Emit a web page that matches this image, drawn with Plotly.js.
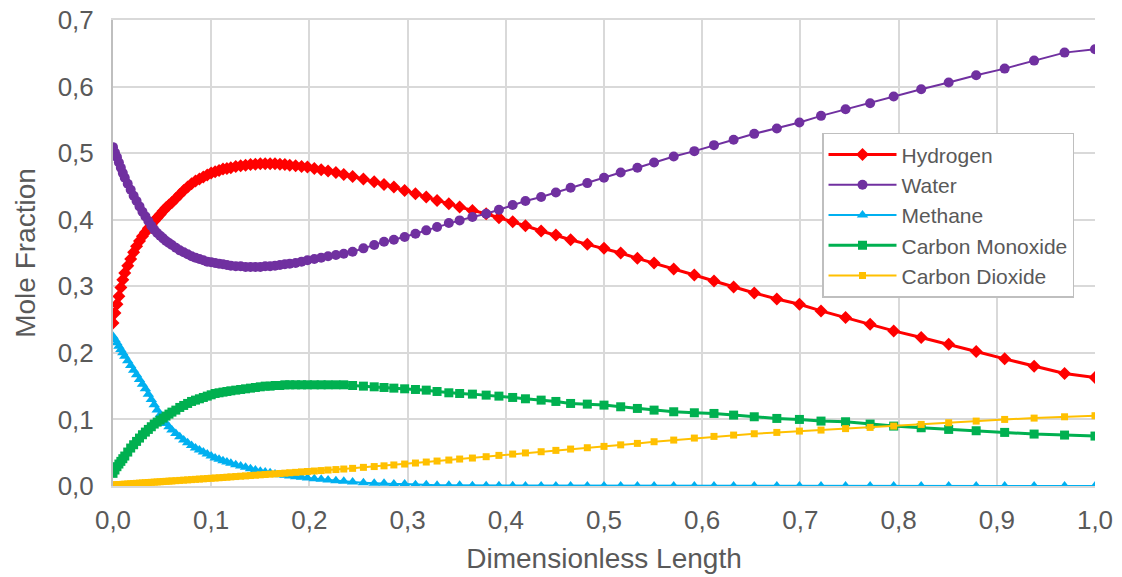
<!DOCTYPE html>
<html>
<head>
<meta charset="utf-8">
<script src="https://cdn.plot.ly/plotly-3.0.1.min.js"></script>
<style>
html,body{margin:0;padding:0;background:#fff;}
#chart{width:1122px;height:577px;}
</style>
</head>
<body>
<div id="chart"></div>
<script>
// Dimensionless length (x)
const lengthX = [
  0, 0.002, 0.004, 0.006, 0.008, 0.010, 0.012, 0.015, 0.018, 0.021,
  0.024, 0.027, 0.030, 0.033, 0.036, 0.039, 0.042, 0.045, 0.048, 0.051,
  0.054, 0.057, 0.060, 0.064, 0.068, 0.072, 0.076, 0.080, 0.084, 0.088,
  0.092, 0.096, 0.100, 0.104, 0.108, 0.112, 0.116, 0.120, 0.125, 0.130,
  0.135, 0.140, 0.145, 0.150, 0.155, 0.160, 0.165, 0.170, 0.175, 0.180,
  0.186, 0.192, 0.198, 0.205, 0.212, 0.219, 0.227, 0.235, 0.244, 0.255,
  0.266, 0.276, 0.286, 0.297, 0.308, 0.319, 0.330, 0.342, 0.353, 0.366,
  0.380, 0.393, 0.407, 0.420, 0.436, 0.451, 0.466, 0.483, 0.500, 0.517,
  0.534, 0.551, 0.571, 0.592, 0.612, 0.632, 0.653, 0.676, 0.699, 0.721,
  0.746, 0.771, 0.795, 0.823, 0.851, 0.879, 0.908, 0.938, 0.969, 1.000
];
const hydrogen = [
  0.245, 0.260, 0.273, 0.285, 0.298, 0.310, 0.320, 0.331, 0.341, 0.351,
  0.360, 0.368, 0.375, 0.381, 0.387, 0.392, 0.398, 0.403, 0.408, 0.413,
  0.418, 0.422, 0.426, 0.432, 0.438, 0.444, 0.449, 0.454, 0.458, 0.461,
  0.464, 0.467, 0.470, 0.472, 0.474, 0.476, 0.477, 0.478, 0.480, 0.481,
  0.482, 0.483, 0.4835, 0.484, 0.484, 0.484, 0.484, 0.4835, 0.483, 0.482,
  0.481, 0.480, 0.479, 0.477, 0.475, 0.473, 0.471, 0.468, 0.465, 0.461,
  0.457, 0.453, 0.449, 0.444, 0.439, 0.434, 0.429, 0.424, 0.419, 0.414,
  0.409, 0.403, 0.397, 0.391, 0.383, 0.377, 0.370, 0.363, 0.357, 0.350,
  0.342, 0.335, 0.326, 0.317, 0.308, 0.299, 0.290, 0.281, 0.273, 0.263,
  0.253, 0.243, 0.233, 0.223, 0.213, 0.202, 0.191, 0.180, 0.169, 0.163
];
const water = [
  0.509, 0.501, 0.494, 0.486, 0.478, 0.470, 0.463, 0.454, 0.445, 0.436,
  0.428, 0.420, 0.412, 0.405, 0.398, 0.391, 0.385, 0.380, 0.376, 0.372,
  0.368, 0.365, 0.362, 0.358, 0.354, 0.351, 0.348, 0.345, 0.343, 0.341,
  0.339, 0.337, 0.336, 0.335, 0.334, 0.333, 0.332, 0.331, 0.330, 0.330,
  0.329, 0.329, 0.329, 0.329, 0.330, 0.330, 0.331, 0.332, 0.333, 0.334,
  0.335, 0.337, 0.339, 0.341, 0.343, 0.345, 0.347, 0.349, 0.352, 0.357,
  0.362, 0.367, 0.370, 0.374, 0.379, 0.384, 0.389, 0.395, 0.399, 0.404,
  0.409, 0.415, 0.422, 0.428, 0.434, 0.441, 0.448, 0.455, 0.463, 0.471,
  0.478, 0.486, 0.495, 0.503, 0.512, 0.520, 0.529, 0.537, 0.546, 0.556,
  0.566, 0.575, 0.585, 0.596, 0.606, 0.617, 0.627, 0.639, 0.651, 0.656
];
const methane = [
  0.225, 0.220, 0.215, 0.210, 0.205, 0.200, 0.195, 0.188, 0.181, 0.174,
  0.167, 0.160, 0.153, 0.146, 0.138, 0.130, 0.122, 0.114, 0.107, 0.100,
  0.094, 0.089, 0.084, 0.079, 0.074, 0.069, 0.065, 0.061, 0.057, 0.054,
  0.051, 0.048, 0.045, 0.042, 0.040, 0.038, 0.036, 0.034, 0.032, 0.030,
  0.028, 0.026, 0.024, 0.022, 0.021, 0.020, 0.018, 0.017, 0.016, 0.015,
  0.014, 0.013, 0.012, 0.011, 0.010, 0.009, 0.008, 0.007, 0.006, 0.005,
  0.004, 0.004, 0.003, 0.003, 0.002, 0.002, 0.001, 0.001, 0.001, 0.0005,
  0.0005, 0.0003, 0.0002, 0.0001, 0, 0, 0, 0, 0, 0,
  0, 0, 0, 0, 0, 0, 0, 0, 0, 0,
  0, 0, 0, 0, 0, 0, 0, 0, 0, 0
];
const carbonMonoxide = [
  0.019, 0.024, 0.029, 0.033, 0.037, 0.041, 0.045, 0.051, 0.057, 0.062,
  0.067, 0.072, 0.077, 0.081, 0.085, 0.089, 0.093, 0.096, 0.099, 0.102,
  0.105, 0.108, 0.111, 0.114, 0.118, 0.121, 0.124, 0.127, 0.129, 0.131,
  0.133, 0.135, 0.137, 0.139, 0.140, 0.141, 0.142, 0.143, 0.144, 0.145,
  0.146, 0.147, 0.148, 0.149, 0.150, 0.150, 0.151, 0.151, 0.152, 0.152,
  0.152, 0.152, 0.152, 0.152, 0.152, 0.152, 0.152, 0.152, 0.151, 0.150,
  0.149, 0.148, 0.147, 0.146, 0.145, 0.144, 0.142, 0.140, 0.139, 0.138,
  0.1365, 0.135, 0.133, 0.131, 0.129, 0.127, 0.124, 0.123, 0.1215, 0.119,
  0.1165, 0.114, 0.1115, 0.110, 0.109, 0.1065, 0.104, 0.1015, 0.100, 0.0975,
  0.0965, 0.093, 0.090, 0.0875, 0.085, 0.083, 0.0805, 0.078, 0.0765, 0.075
];
const carbonDioxide = [
  0.0015, 0.0017, 0.0019, 0.0021, 0.0023, 0.0025, 0.0027, 0.0030, 0.0034, 0.0037,
  0.0040, 0.0043, 0.0046, 0.0049, 0.0052, 0.0055, 0.0058, 0.0061, 0.0064, 0.0067,
  0.0070, 0.0073, 0.0076, 0.0080, 0.0084, 0.0088, 0.0092, 0.0096, 0.0100, 0.0104,
  0.0108, 0.0112, 0.0116, 0.0120, 0.0124, 0.0128, 0.0132, 0.0137, 0.0142, 0.0147,
  0.0152, 0.0157, 0.0162, 0.0168, 0.0173, 0.0178, 0.0183, 0.0188, 0.0193, 0.0199,
  0.0205, 0.0212, 0.0218, 0.0225, 0.0232, 0.0240, 0.0247, 0.0255, 0.0265, 0.0280,
  0.0292, 0.0303, 0.0316, 0.0330, 0.0345, 0.0360, 0.0375, 0.0390, 0.0405, 0.0420,
  0.0440, 0.0460, 0.0480, 0.0497, 0.0515, 0.0535, 0.0555, 0.0575, 0.0595, 0.0618,
  0.0640, 0.0665, 0.0690, 0.0720, 0.0745, 0.0765, 0.0785, 0.0805, 0.0825, 0.0840,
  0.0862, 0.0880, 0.0900, 0.0925, 0.0950, 0.0975, 0.1000, 0.1020, 0.1040, 0.1056
];
const seriesNames = ["Hydrogen", "Water", "Methane", "Carbon Monoxide", "Carbon Dioxide"];
const xTickVals = [0, 0.1, 0.2, 0.3, 0.4, 0.5, 0.6, 0.7, 0.8, 0.9, 1.0];
const yTickVals = [0, 0.1, 0.2, 0.3, 0.4, 0.5, 0.6, 0.7];

const styles = [
  {color: "#ff0000", symbol: "diamond", size: 10, width: 3},
  {color: "#7030a0", symbol: "circle", size: 10, width: 2},
  {color: "#00b0f0", symbol: "triangle-up", size: 10, width: 2},
  {color: "#00b050", symbol: "square", size: 9, width: 3},
  {color: "#ffc000", symbol: "square", size: 7, width: 2}
];
const seriesData = [hydrogen, water, methane, carbonMonoxide, carbonDioxide];

const traces = seriesData.map((ys, i) => ({
  type: "scatter",
  mode: "lines+markers",
  name: seriesNames[i],
  x: lengthX,
  y: ys,
  line: {color: styles[i].color, width: styles[i].width},
  marker: {color: styles[i].color, symbol: styles[i].symbol, size: styles[i].size, line: {width: 0}},
  legendgroup: "g" + i,
  hoverinfo: "skip"
}));

const fam = "Liberation Sans, Arial, sans-serif";
const tickFont = {family: fam, size: 26, color: "#595959"};
const layout = {
  width: 1122,
  height: 577,
  margin: {l: 113, r: 27, t: 20, b: 91},
  paper_bgcolor: "#ffffff",
  plot_bgcolor: "#ffffff",
  separators: ",.",
  showlegend: true,
  legend: {
    x: 0.722, y: 0.758, xanchor: "left", yanchor: "top",
    bgcolor: "#ffffff", bordercolor: "#bfbfbf", borderwidth: 1.5,
    font: {family: fam, size: 21, color: "#595959"},
    traceorder: "grouped", tracegroupgap: 0, itemwidth: 68
  },
  xaxis: {
    range: [0, 1],
    tickvals: xTickVals,
    tickformat: ".1f",
    tickfont: tickFont,
    showgrid: true, gridcolor: "#d9d9d9", gridwidth: 2,
    zeroline: false,
    showline: true, linecolor: "#d9d9d9", linewidth: 2, mirror: true,
    ticks: "", ticklabelstandoff: 10,
    title: {text: "Dimensionless Length", font: {family: fam, size: 28, color: "#595959"}, standoff: 14}
  },
  yaxis: {
    range: [0, 0.7],
    tickvals: yTickVals,
    tickformat: ".1f",
    tickfont: tickFont,
    showgrid: true, gridcolor: "#d9d9d9", gridwidth: 2,
    zeroline: false,
    showline: true, linecolor: "#bfbfbf", linewidth: 2, mirror: false,
    ticks: "", ticklabelstandoff: 12,
    title: {text: "Mole Fraction", font: {family: fam, size: 28, color: "#595959"}, standoff: 14}
  }
};

Plotly.newPlot("chart", traces, layout, {displayModeBar: false, staticPlot: true});
</script>
</body>
</html>
